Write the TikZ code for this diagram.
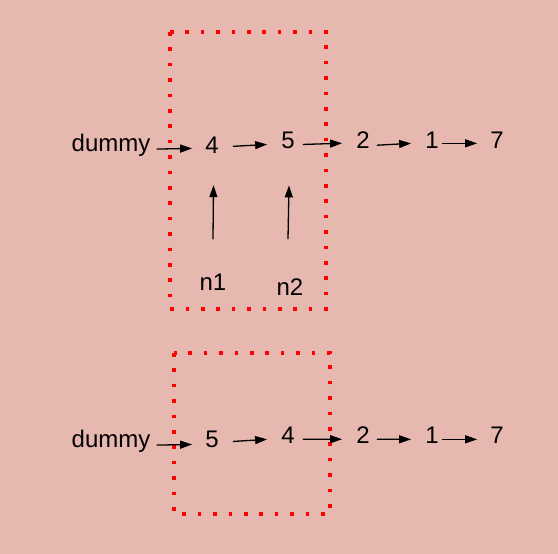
\documentclass[tikz,border=0pt]{standalone}
\usepackage{fontspec}
\setmainfont{Liberation Sans}
\usetikzlibrary{arrows.meta}
\definecolor{bgc}{RGB}{230,184,175}
\definecolor{dotred}{RGB}{255,0,0}
\begin{document}
\begin{tikzpicture}[x=1pt,y=-1pt,
  lbl/.style={inner sep=0pt,anchor=base,font=\fontsize{24}{28}\selectfont},
  arr/.style={line width=1.3pt,-{Triangle[length=12pt,width=8pt]}},
  dotbox/.style={draw=dotred,line width=3.6pt,dash pattern=on 3.6pt off 11.8pt}]
\fill[bgc] (0,0) rectangle (558,554);
\useasboundingbox (0,0) rectangle (558,554);
% boxes
\draw[dotbox] (170,32) rectangle (326,309);
\draw[dotbox] (174,353) rectangle (330,514);
% row 1
\node[lbl] (d1) at (111,151) {dummy};
\node[lbl] (a4) at (212,153) {4};
\node[lbl] (a5) at (288,148) {5};
\node[lbl] (a2) at (363,148) {2};
\node[lbl] (a1) at (432,148) {1};
\node[lbl] (a7) at (497,148) {7};
\node[lbl] (n1) at (213,290) {n1};
\node[lbl] (n2) at (290,295) {n2};
\draw[arr] ([shift={(6,4.3)}]d1.east) -- ([shift={(-13,3.6)}]a4.west);
\draw[arr] ([shift={(14,1.6)}]a4.east) -- ([shift={(-14,4.6)}]a5.west);
\draw[arr] ([shift={(8,4.6)}]a5.east) -- ([shift={(-14,3.6)}]a2.west);
\draw[arr] ([shift={(7,5.6)}]a2.east) -- ([shift={(-14,3.6)}]a1.west);
\draw[arr] ([shift={(3,3.6)}]a1.east) -- ([shift={(-13,3.6)}]a7.west);
\draw[arr] ([shift={(0,-34)}]n1.north) -- ([shift={(1.5,32)}]a4.south);
\draw[arr] ([shift={(-2,-39)}]n2.north) -- ([shift={(1,37)}]a5.south);
% row 2
\node[lbl] (d2) at (111,447) {dummy};
\node[lbl] (b5) at (212,447) {5};
\node[lbl] (b4) at (288,443) {4};
\node[lbl] (b2) at (363,443) {2};
\node[lbl] (b1) at (432,443) {1};
\node[lbl] (b7) at (497,443) {7};
\draw[arr] ([shift={(6,4.3)}]d2.east) -- ([shift={(-13,5.6)}]b5.west);
\draw[arr] ([shift={(14,2.6)}]b5.east) -- ([shift={(-14,4.6)}]b4.west);
\draw[arr] ([shift={(8,4.6)}]b4.east) -- ([shift={(-14,4.6)}]b2.west);
\draw[arr] ([shift={(7,4.6)}]b2.east) -- ([shift={(-14,4.6)}]b1.west);
\draw[arr] ([shift={(3,4.6)}]b1.east) -- ([shift={(-13,4.6)}]b7.west);
\end{tikzpicture}
\end{document}
